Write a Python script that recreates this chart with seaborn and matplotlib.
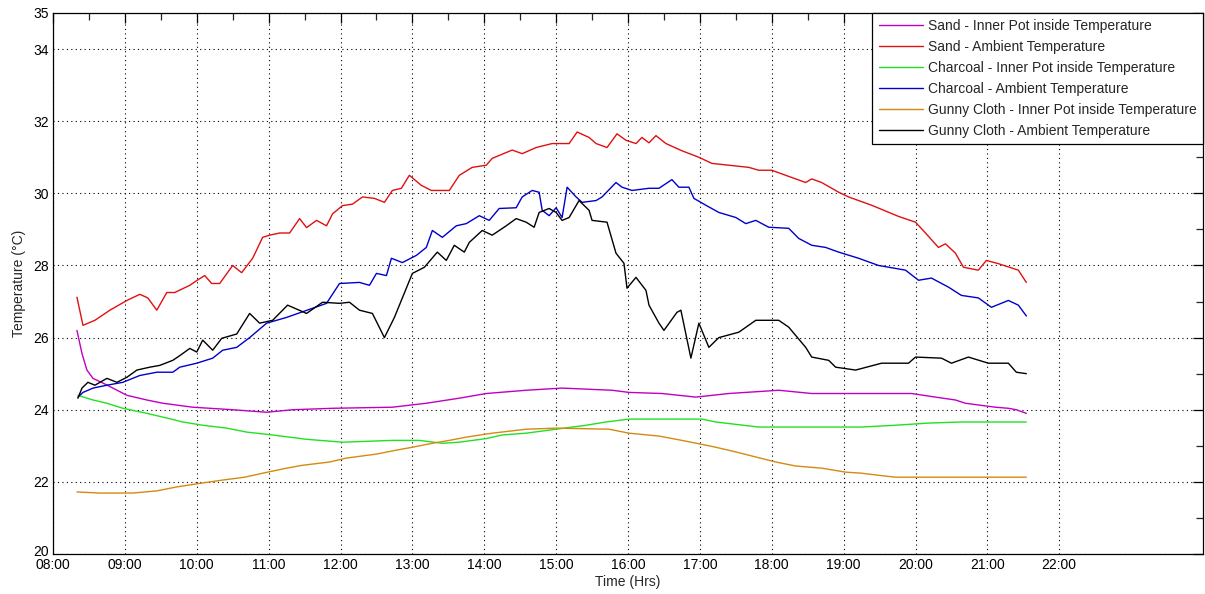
import numpy as np
import pandas as pd
import matplotlib
matplotlib.use("Agg")
import matplotlib.pyplot as plt
import matplotlib.transforms as mtransforms
import seaborn as sns

# ---- data (time in decimal hours, temperature in °C) ----
sand_in_t = [8.333, 8.403, 8.472, 8.556, 8.694, 8.833, 9.028, 9.306, 9.528, 9.944, 10.5, 10.972,
             11.333, 11.889, 12.722, 13.194, 13.653, 14.028, 14.583, 15.083, 15.778, 16.014,
             16.472, 16.944, 17.403, 18.097, 18.556, 19.25, 19.944, 20.278, 20.556, 20.694,
             21.111, 21.292, 21.403, 21.542]
sand_in_v = [26.2, 25.56, 25.1, 24.87, 24.74, 24.6, 24.4, 24.27, 24.18, 24.07, 24.0, 23.93,
             24.0, 24.04, 24.07, 24.18, 24.32, 24.45, 24.54, 24.6, 24.54, 24.48,
             24.45, 24.35, 24.45, 24.54, 24.45, 24.45, 24.45, 24.35, 24.27, 24.18,
             24.07, 24.04, 24.0, 23.9]

sand_amb_t = [8.333, 8.417, 8.583, 8.792, 9.028, 9.208, 9.319, 9.444, 9.583, 9.694, 9.903, 10.014,
              10.111, 10.208, 10.319, 10.5, 10.625, 10.778, 10.917, 11.014, 11.153, 11.292, 11.431,
              11.528, 11.667, 11.806, 11.889, 12.028, 12.167, 12.306, 12.472, 12.611, 12.722,
              12.847, 12.958, 13.125, 13.264, 13.514, 13.653, 13.833, 14.028, 14.111, 14.389,
              14.528, 14.722, 14.944, 15.181, 15.292, 15.458, 15.556, 15.708, 15.847, 15.972,
              16.111, 16.194, 16.292, 16.389, 16.528, 16.75, 16.986, 17.167, 17.681, 17.819,
              18.0, 18.194, 18.472, 18.556, 18.694, 18.931, 19.069, 19.389, 19.764, 20.0,
              20.139, 20.319, 20.417, 20.556, 20.667, 20.875, 20.986, 21.153, 21.431, 21.542]
sand_amb_v = [27.12, 26.34, 26.48, 26.76, 27.03, 27.2, 27.1, 26.76, 27.25, 27.25, 27.45, 27.6,
              27.72, 27.5, 27.5, 28.0, 27.8, 28.2, 28.78, 28.84, 28.9, 28.9, 29.3,
              29.05, 29.25, 29.1, 29.43, 29.66, 29.7, 29.9, 29.86, 29.75, 30.08,
              30.14, 30.5, 30.22, 30.08, 30.08, 30.5, 30.72, 30.78, 30.97, 31.2,
              31.1, 31.27, 31.38, 31.38, 31.7, 31.55, 31.38, 31.27, 31.65, 31.47,
              31.38, 31.55, 31.4, 31.6, 31.38, 31.18, 31.0, 30.83, 30.72, 30.64,
              30.64, 30.5, 30.3, 30.4, 30.3, 30.03, 29.9, 29.67, 29.36, 29.2,
              28.9, 28.5, 28.6, 28.34, 27.95, 27.87, 28.14, 28.05, 27.87, 27.53]

char_in_t = [8.347, 8.556, 8.75, 8.972, 9.306, 9.583, 9.806, 10.083, 10.417, 10.694, 11.056,
             11.528, 12.028, 12.722, 13.097, 13.417, 13.653, 14.028, 14.25, 14.583, 15.417,
             15.694, 16.014, 17.028, 17.222, 17.819, 19.25, 19.722, 20.181, 20.639, 21.542]
char_in_v = [24.4, 24.27, 24.18, 24.04, 23.9, 23.77, 23.66, 23.57, 23.49, 23.38, 23.3,
             23.18, 23.1, 23.15, 23.15, 23.07, 23.1, 23.2, 23.3, 23.35, 23.57,
             23.66, 23.74, 23.74, 23.66, 23.52, 23.52, 23.57, 23.63, 23.66, 23.66]

char_amb_t = [8.347, 8.417, 8.556, 8.75, 8.972, 9.208, 9.444, 9.667, 9.764, 10.0, 10.222, 10.361,
              10.556, 10.736, 10.972, 11.25, 11.806, 11.986, 12.264, 12.403, 12.5, 12.639, 12.708,
              12.861, 13.056, 13.194, 13.278, 13.417, 13.611, 13.75, 13.931, 14.069, 14.208,
              14.444, 14.528, 14.667, 14.764, 14.806, 14.903, 15.0, 15.083, 15.153, 15.278,
              15.361, 15.556, 15.639, 15.833, 15.917, 16.056, 16.292, 16.431, 16.611, 16.708,
              16.847, 16.917, 17.083, 17.264, 17.5, 17.639, 17.778, 17.958, 18.236, 18.375,
              18.556, 18.75, 18.931, 19.208, 19.486, 19.861, 20.042, 20.222, 20.458, 20.639,
              20.875, 21.056, 21.292, 21.431, 21.542]
char_amb_v = [24.35, 24.48, 24.6, 24.68, 24.76, 24.95, 25.04, 25.04, 25.18, 25.29, 25.43, 25.65,
              25.73, 26.0, 26.4, 26.56, 26.95, 27.5, 27.53, 27.45, 27.78, 27.72, 28.2,
              28.08, 28.28, 28.5, 28.97, 28.78, 29.1, 29.16, 29.38, 29.25, 29.58,
              29.6, 29.9, 30.08, 30.03, 29.53, 29.38, 29.6, 29.33, 30.17, 29.9,
              29.75, 29.8, 29.9, 30.3, 30.17, 30.08, 30.14, 30.14, 30.38, 30.17,
              30.17, 29.86, 29.67, 29.47, 29.33, 29.16, 29.25, 29.06, 29.03, 28.75,
              28.56, 28.5, 28.37, 28.2, 28.0, 27.87, 27.59, 27.65, 27.4, 27.17,
              27.1, 26.84, 27.03, 26.9, 26.6]

gunny_in_t = [8.333, 8.653, 9.111, 9.444, 9.722, 10.083, 10.361, 10.667, 10.917, 11.25, 11.472,
              11.847, 12.083, 12.5, 12.778, 13.0, 13.278, 13.514, 13.75, 14.111, 14.583, 15.0,
              15.736, 16.014, 16.431, 16.75, 17.028, 17.222, 17.5, 17.778, 18.056, 18.333,
              18.694, 19.028, 19.25, 19.583, 19.722, 21.542]
gunny_in_v = [21.72, 21.69, 21.69, 21.75, 21.86, 21.97, 22.05, 22.13, 22.24, 22.38, 22.46,
              22.55, 22.66, 22.77, 22.88, 22.96, 23.07, 23.15, 23.24, 23.35, 23.46, 23.49,
              23.46, 23.35, 23.27, 23.15, 23.04, 22.96, 22.83, 22.69, 22.55, 22.44,
              22.38, 22.27, 22.24, 22.16, 22.13, 22.13]

gunny_amb_t = [8.347, 8.403, 8.486, 8.583, 8.75, 8.889, 9.028, 9.167, 9.347, 9.486, 9.667, 9.764,
               9.903, 10.0, 10.083, 10.222, 10.347, 10.556, 10.736, 10.875, 11.056, 11.264,
               11.528, 11.75, 11.986, 12.125, 12.264, 12.444, 12.611, 12.75, 13.0, 13.167,
               13.347, 13.472, 13.583, 13.722, 13.792, 13.972, 14.111, 14.306, 14.444, 14.583,
               14.694, 14.764, 14.903, 15.0, 15.083, 15.181, 15.319, 15.458, 15.5, 15.708,
               15.833, 15.944, 15.986, 16.111, 16.25, 16.292, 16.431, 16.5, 16.681, 16.736,
               16.875, 16.986, 17.125, 17.264, 17.542, 17.778, 18.097, 18.236, 18.472, 18.556,
               18.792, 18.889, 19.167, 19.528, 19.903, 20.0, 20.361, 20.5, 20.736, 21.014,
               21.292, 21.403, 21.542]
gunny_amb_v = [24.32, 24.6, 24.76, 24.68, 24.87, 24.76, 24.9, 25.1, 25.18, 25.23, 25.37, 25.5,
               25.7, 25.6, 25.93, 25.65, 25.98, 26.1, 26.67, 26.4, 26.48, 26.9,
               26.67, 26.98, 26.95, 26.98, 26.76, 26.67, 26.0, 26.56, 27.78, 27.95,
               28.37, 28.14, 28.56, 28.37, 28.64, 28.97, 28.84, 29.1, 29.3, 29.2,
               29.06, 29.47, 29.58, 29.47, 29.25, 29.33, 29.8, 29.53, 29.25, 29.2,
               28.34, 28.06, 27.37, 27.67, 27.31, 26.9, 26.4, 26.2, 26.7, 26.76,
               25.43, 26.4, 25.73, 26.0, 26.15, 26.48, 26.48, 26.29, 25.73, 25.46,
               25.37, 25.18, 25.1, 25.29, 25.29, 25.46, 25.43, 25.29, 25.46, 25.29,
               25.29, 25.04, 25.0]

labels = ["Sand - Inner Pot inside Temperature",
          "Sand - Ambient Temperature",
          "Charcoal - Inner Pot inside Temperature",
          "Charcoal - Ambient Temperature",
          "Gunny Cloth - Inner Pot inside Temperature",
          "Gunny Cloth - Ambient Temperature"]
colors = ["#c000c0", "#e01010", "#22e022", "#0000cc", "#d48a10", "#000000"]

x_ticks = list(range(8, 23))
x_ticklabels = [f"{h:02d}:00" for h in x_ticks]
y_ticks = [20, 22, 24, 26, 28, 30, 32, 34, 35]

series = [(sand_in_t, sand_in_v), (sand_amb_t, sand_amb_v),
          (char_in_t, char_in_v), (char_amb_t, char_amb_v),
          (gunny_in_t, gunny_in_v), (gunny_amb_t, gunny_amb_v)]

# ---- plot ----
sns.set_style("white")
plt.rcParams['font.family'] = ['Liberation Sans', 'DejaVu Sans']

fig = plt.figure(figsize=(12.05, 5.94), dpi=100)
ax = fig.add_axes([53/1205, 1 - 554/594, (1203-53)/1205, (554-13)/594])

for (t, v), lab, col in zip(series, labels, colors):
    sns.lineplot(x=t, y=v, ax=ax, color=col, label=lab, linewidth=1.0, sort=False)

ax.set_xlim(8, 24)
ax.set_ylim(20, 35)
ax.set_xticks(x_ticks)
ax.set_xticklabels(x_ticklabels)
ax.set_xticks([h + 0.5 for h in range(8, 24)] + [23], minor=True)
ax.set_yticks(y_ticks)
ax.set_yticklabels([str(y) for y in y_ticks])
ax.set_yticks([21, 23, 25, 27, 29, 31, 33], minor=True)

ax.tick_params(axis='both', which='major', direction='in', length=7, width=0.9,
               top=True, right=True, labelsize=10, colors='black', pad=3)
ax.tick_params(axis='both', which='minor', direction='in', length=5, width=0.9,
               top=True, right=True)

# lift the bottom "20" label slightly so it sits just above "08:00"
lbl20 = ax.get_yticklabels()[0]
lbl20.set_transform(lbl20.get_transform() +
                    mtransforms.ScaledTranslation(0, 4/100, fig.dpi_scale_trans))

ax.grid(True, which='major', color='black', linestyle=(0, (1, 3)), linewidth=0.8)
for s in ax.spines.values():
    s.set_color('black')
    s.set_linewidth(0.9)

ax.set_xlabel("Time (Hrs)", fontsize=10, labelpad=2)
ax.set_ylabel("Temperature (°C)", fontsize=10, labelpad=5)

leg = ax.legend(loc='upper right', borderaxespad=0, fontsize=10, frameon=True,
                fancybox=False, edgecolor='black', framealpha=1, handlelength=3.2,
                labelspacing=0.5, borderpad=0.45, handletextpad=0.35)
leg.get_frame().set_linewidth(0.9)

fig.savefig("out.png", dpi=100, facecolor='white')
